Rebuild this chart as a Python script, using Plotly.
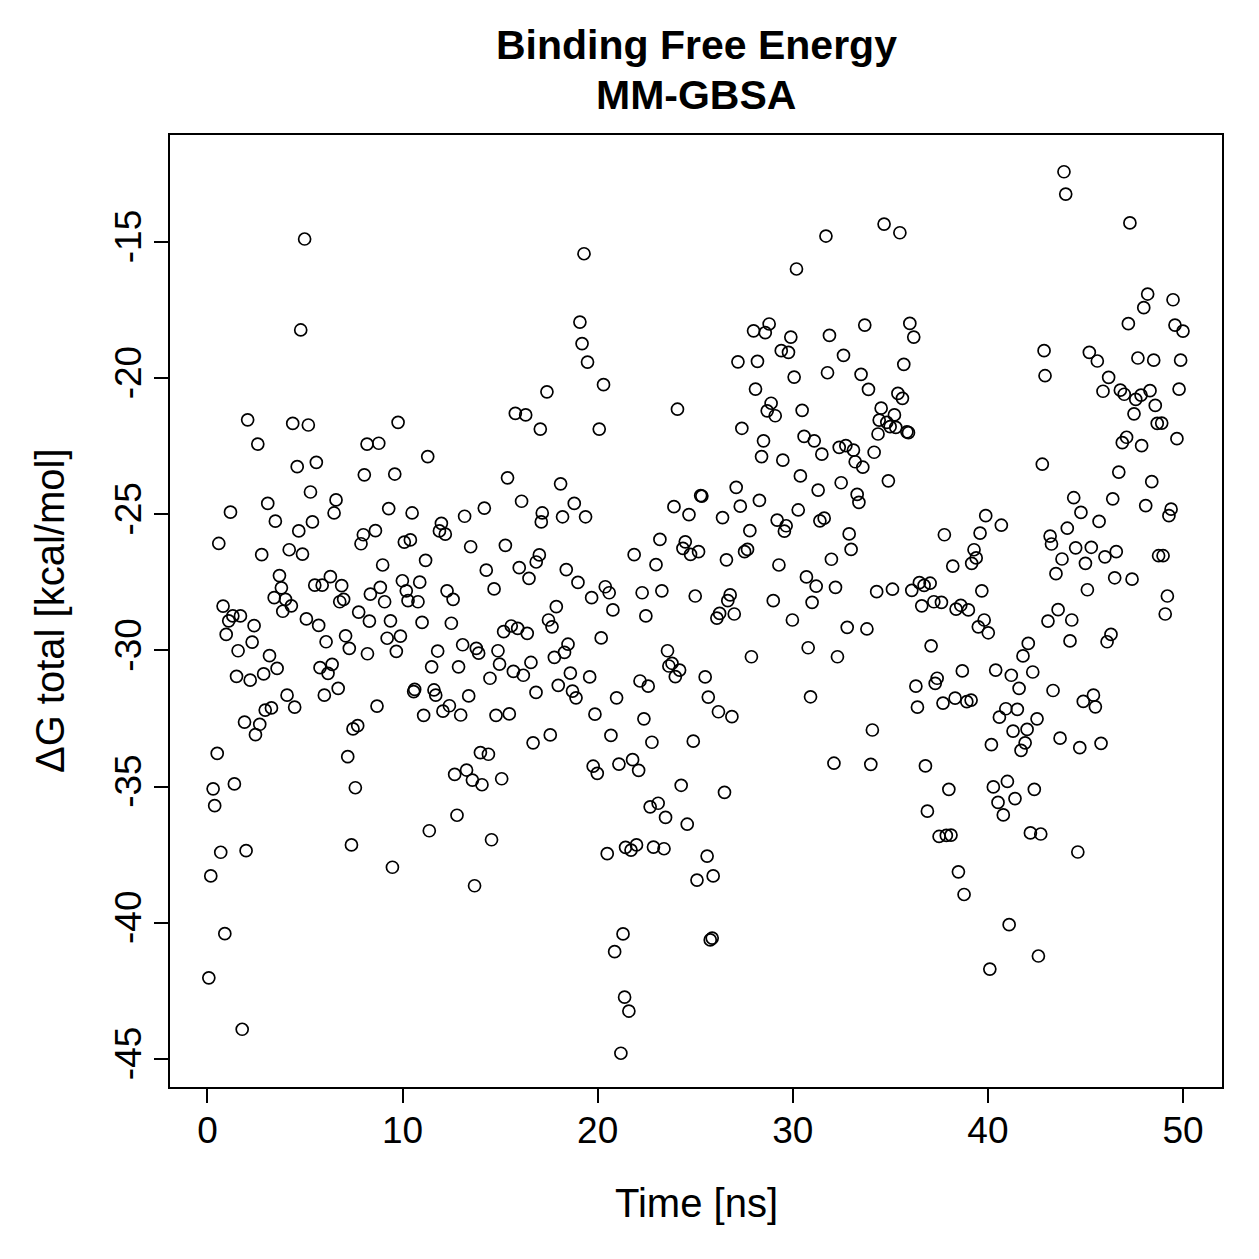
import plotly.graph_objects as go

time_ns = [0.07,0.17,0.29,0.37,0.50,0.58,0.68,0.80,0.89,0.96,1.09,1.30,1.69,1.18,1.38,1.49,1.57,1.90,1.98,1.78,
2.06,2.19,2.29,2.39,2.46,2.58,2.68,2.78,2.88,2.96,3.09,3.18,3.28,3.42,3.48,3.57,3.69,3.79,3.86,4.00,
4.08,4.19,4.30,4.37,4.47,4.60,4.68,4.78,4.87,4.98,5.07,5.17,5.28,5.38,5.50,5.58,5.70,5.77,5.88,5.99,
6.08,6.18,6.30,6.39,6.49,6.59,6.70,6.78,6.88,6.98,7.08,7.19,7.27,7.38,7.46,7.58,7.70,7.75,7.87,7.99,
8.04,8.18,8.20,8.30,8.35,8.61,8.69,8.78,8.86,8.98,9.08,9.21,9.29,9.38,9.48,9.60,9.68,9.77,9.89,9.99,
10.09,10.19,10.28,10.40,10.49,10.57,10.62,10.79,10.88,11.00,11.08,11.18,11.29,11.37,11.49,11.61,11.70,11.80,11.89,11.99,
12.07,12.19,12.28,12.40,12.50,12.59,12.67,12.79,12.87,12.98,13.08,13.18,13.28,13.39,13.49,13.58,13.69,13.78,13.90,13.99,
14.07,14.19,14.29,14.40,14.48,14.56,14.69,14.79,14.89,14.97,15.08,15.18,15.27,15.38,15.47,15.57,15.68,15.78,15.90,15.98,
16.10,16.19,16.31,16.39,16.48,16.58,16.69,16.85,16.84,17.16,17.01,17.06,17.11,17.40,17.48,17.66,17.57,17.78,17.88,17.98,
18.10,18.20,18.30,18.39,18.48,18.60,18.71,18.80,18.89,18.99,19.09,19.20,19.30,19.38,19.48,19.59,19.69,19.77,19.86,19.98,
20.08,20.18,20.30,20.39,20.49,20.59,20.68,20.78,20.87,20.97,21.09,21.19,21.30,21.38,21.43,21.60,21.71,21.79,21.87,21.99,
22.10,22.17,22.28,22.37,22.47,22.59,22.69,22.78,22.86,22.99,23.10,23.19,23.29,23.40,23.48,23.58,23.65,23.81,23.91,23.98,
24.09,24.20,24.28,24.37,24.49,24.59,24.68,24.76,24.90,25.00,25.09,25.17,25.34,25.28,25.51,25.61,25.67,25.92,25.77,25.87,
26.11,26.19,26.25,26.40,26.50,26.60,26.67,26.79,26.88,27.00,27.10,27.19,27.31,27.39,27.53,27.68,27.80,27.88,27.99,28.09,
28.19,28.29,28.40,28.50,28.59,28.69,28.79,28.89,29.00,29.10,29.20,29.29,29.41,29.49,29.57,29.66,29.78,29.90,29.98,30.07,
30.19,30.28,30.39,30.48,30.58,30.70,30.79,30.91,30.99,31.10,31.20,31.30,31.39,31.49,31.61,31.70,31.78,31.88,31.98,32.11,
32.19,32.29,32.38,32.48,32.60,32.72,32.79,32.89,32.99,33.11,33.20,33.30,33.39,33.50,33.59,33.69,33.80,33.88,34.00,34.08,
34.17,34.30,34.68,34.53,34.43,34.37,34.82,34.90,34.99,35.21,35.28,35.39,35.49,35.62,35.69,35.85,35.93,36.00,36.20,35.11,
36.10,36.49,36.73,37.04,36.61,37.23,37.62,37.77,38.20,38.37,38.61,39.00,39.17,39.29,39.40,39.60,39.69,39.81,39.89,40.69,
42.79,42.88,42.93,43.19,43.26,39.51,40.02,43.08,37.09,42.07,41.80,38.69,40.40,41.20,42.30,41.60,36.31,37.40,37.30,36.39,
37.70,38.32,38.92,39.14,40.92,41.51,40.59,42.52,43.34,41.29,42.01,41.91,41.70,40.18,36.80,38.00,40.28,41.00,42.38,40.52,
41.39,40.79,36.90,37.50,37.87,38.11,42.18,42.71,38.49,38.78,41.09,42.59,40.10,43.90,43.99,47.28,48.19,47.99,49.49,47.20,
49.59,50.00,45.20,45.61,47.69,48.50,49.88,46.19,45.90,46.79,46.99,47.58,47.85,48.31,48.58,47.49,49.80,48.68,48.91,49.69,
46.89,47.11,47.88,46.71,48.40,44.40,46.40,48.09,49.39,49.28,44.77,45.70,44.07,44.50,45.30,43.80,45.00,46.00,46.58,48.75,
48.98,43.49,46.50,47.39,45.10,49.20,43.60,49.09,44.30,44.21,46.31,46.11,44.89,45.41,45.51,43.70,44.71,45.80,44.61]

dG_total = [-42.02,-38.28,-35.08,-35.70,-33.78,-26.07,-37.41,-28.37,-40.40,-29.41,-28.91,-28.73,-28.73,-24.92,-34.90,-30.95,-30.01,-32.63,-37.35,-43.91,
-21.53,-31.09,-29.69,-29.09,-33.09,-22.42,-32.71,-26.48,-30.86,-32.19,-24.60,-30.19,-32.11,-28.06,-25.25,-30.66,-27.25,-27.70,-28.56,-28.12,
-31.64,-26.30,-28.36,-21.66,-32.08,-23.25,-25.61,-18.23,-26.46,-14.89,-28.84,-21.72,-24.18,-25.28,-27.60,-23.09,-29.08,-30.63,-27.60,-31.64,
-29.68,-30.84,-27.29,-30.51,-24.95,-24.47,-31.39,-28.21,-27.62,-28.12,-29.46,-33.90,-29.92,-37.14,-32.88,-35.04,-32.76,-28.59,-26.08,-25.75,
-23.55,-22.42,-30.12,-28.92,-27.93,-25.60,-32.04,-22.39,-27.68,-26.86,-28.21,-29.55,-24.79,-28.91,-37.96,-23.52,-30.03,-21.62,-29.47,-27.44,
-26.02,-27.81,-28.17,-25.94,-24.95,-31.51,-31.43,-28.21,-27.49,-28.97,-32.38,-26.69,-22.88,-36.62,-30.60,-31.45,-31.64,-30.02,-25.61,-25.33,
-32.23,-25.73,-27.81,-32.03,-29.00,-28.12,-34.55,-36.05,-30.60,-32.37,-29.79,-25.07,-34.39,-31.67,-26.19,-34.76,-38.64,-29.92,-30.10,-33.75,
-34.93,-24.77,-27.05,-33.81,-31.02,-36.95,-27.74,-32.38,-30.01,-30.50,-34.71,-29.31,-26.14,-23.66,-32.33,-29.10,-30.77,-21.29,-29.19,-26.96,
-24.52,-30.91,-21.35,-29.37,-27.35,-30.44,-33.39,-26.75,-31.54,-24.95,-26.49,-21.87,-25.28,-20.50,-28.88,-29.13,-33.10,-30.25,-28.39,-31.28,
-23.88,-25.09,-30.07,-27.03,-29.77,-30.83,-31.49,-24.60,-31.74,-27.50,-17.94,-18.73,-15.43,-25.09,-19.41,-30.97,-28.06,-34.25,-32.34,-34.51,
-21.87,-29.54,-20.24,-27.66,-37.46,-27.88,-33.12,-28.51,-41.06,-31.74,-34.17,-44.79,-40.41,-42.73,-37.23,-43.24,-37.33,-34.01,-26.48,-37.14,
-34.40,-31.12,-27.88,-32.51,-28.73,-31.31,-35.74,-33.37,-37.22,-26.85,-35.61,-25.92,-27.81,-37.28,-36.13,-30.01,-30.57,-30.47,-24.72,-30.96,
-21.14,-30.72,-34.95,-26.25,-26.01,-36.38,-25.01,-26.47,-33.33,-28.00,-38.43,-26.37,-24.33,-24.31,-30.97,-37.55,-31.71,-38.28,-40.63,-40.56,
-28.81,-32.25,-28.64,-25.12,-35.21,-26.67,-28.17,-27.96,-32.43,-28.66,-24.01,-19.40,-24.70,-21.84,-26.37,-26.29,-25.60,-30.23,-18.26,-20.40,
-19.38,-24.49,-22.88,-22.30,-18.33,-21.20,-18.01,-20.92,-28.17,-21.38,-25.21,-26.86,-18.99,-23.01,-25.62,-25.42,-19.05,-18.49,-28.88,-19.96,
-15.99,-24.84,-23.59,-21.18,-22.14,-27.30,-29.90,-31.70,-28.23,-22.30,-27.64,-24.11,-25.24,-22.79,-25.14,-14.78,-19.80,-18.43,-26.65,-34.14,
-27.68,-30.23,-22.54,-23.84,-19.16,-22.48,-29.15,-25.72,-26.29,-22.64,-23.07,-24.27,-24.56,-19.86,-23.27,-18.05,-29.21,-20.41,-34.18,-32.92,
-22.72,-27.84,-14.34,-21.10,-21.54,-22.05,-21.62,-23.77,-21.78,-21.35,-21.81,-20.56,-14.66,-20.74,-19.49,-21.97,-22.00,-17.99,-18.49,-27.75,
-27.79,-27.51,-27.61,-27.53,-28.36,-28.21,-28.23,-25.75,-26.90,-28.48,-28.34,-28.51,-26.80,-26.30,-26.60,-25.69,-27.81,-28.88,-25.05,-25.40,
-23.16,-18.99,-19.91,-25.80,-26.09,-29.13,-29.35,-28.92,-29.83,-29.74,-30.20,-30.75,-30.72,-30.91,-30.79,-31.39,-31.31,-31.02,-31.21,-32.08,
-31.93,-31.75,-31.88,-31.82,-32.14,-32.16,-32.45,-32.51,-31.47,-32.96,-32.90,-33.39,-33.67,-33.46,-34.24,-35.10,-35.01,-34.81,-35.10,-35.58,
-35.44,-36.04,-35.90,-36.83,-36.79,-36.78,-36.70,-36.74,-38.13,-38.96,-40.07,-41.22,-41.70,-12.42,-13.24,-14.30,-16.91,-17.41,-17.12,-18.00,
-18.05,-18.27,-19.05,-19.37,-19.26,-19.34,-19.34,-19.97,-20.48,-20.44,-20.59,-20.78,-20.62,-20.46,-21.00,-21.31,-20.40,-21.66,-21.65,-22.22,
-22.37,-22.17,-22.48,-23.45,-23.80,-24.39,-24.43,-24.68,-24.81,-25.05,-24.93,-25.26,-25.51,-26.23,-26.21,-26.64,-26.80,-26.56,-26.37,-26.52,
-26.52,-27.18,-27.33,-27.38,-27.77,-28.00,-28.50,-28.66,-28.88,-29.65,-29.41,-29.68,-31.87,-31.64,-32.07,-33.22,-33.57,-33.41,-37.40]

x_ticks = [0, 10, 20, 30, 40, 50]
y_ticks = [-45, -40, -35, -30, -25, -20, -15]

FONT = "Liberation Sans, Arial, Helvetica, sans-serif"

fig = go.Figure()
fig.add_trace(go.Scatter(
    x=time_ns, y=dG_total, mode="markers",
    marker=dict(symbol="circle-open", size=12, color="black", line=dict(width=1.7)),
    hoverinfo="x+y", showlegend=False,
))

axis_common = dict(
    showgrid=False, zeroline=False, showline=True, linecolor="black", linewidth=2,
    mirror=True, ticks="outside", ticklen=14, tickwidth=2, tickcolor="black",
    tickfont=dict(family=FONT, size=37, color="black"),
)

fig.update_xaxes(range=[-1.92, 52.0], tickvals=x_ticks, ticktext=[str(v) for v in x_ticks],
                 ticklabelstandoff=-4, **axis_common)
fig.update_yaxes(range=[-46.03, -11.07], tickvals=y_ticks, ticktext=[str(v) for v in y_ticks],
                 tickangle=-90, ticklabelstandoff=-2, **axis_common)

fig.update_layout(
    width=1259, height=1259,
    margin=dict(l=170, r=37, t=135, b=172),
    paper_bgcolor="white", plot_bgcolor="white",
    font=dict(family=FONT, color="black"),
    annotations=[
        dict(text="<b>Binding Free Energy</b>", x=0.5, y=1.0945, xref="paper", yref="paper",
             xanchor="center", yanchor="middle", showarrow=False,
             font=dict(family=FONT, size=41, color="black")),
        dict(text="<b>MM-GBSA</b>", x=0.5, y=1.042, xref="paper", yref="paper",
             xanchor="center", yanchor="middle", showarrow=False,
             font=dict(family=FONT, size=41, color="black")),
        dict(text="Time [ns]", x=0.5, y=-0.1218, xref="paper", yref="paper",
             xanchor="center", yanchor="middle", showarrow=False,
             font=dict(family=FONT, size=40, color="black")),
        dict(text="ΔG total [kcal/mol]", x=-0.114, y=0.5, xref="paper", yref="paper",
             xanchor="center", yanchor="middle", showarrow=False, textangle=-90,
             font=dict(family=FONT, size=40, color="black")),
    ],
)

fig.write_html("out.html")
